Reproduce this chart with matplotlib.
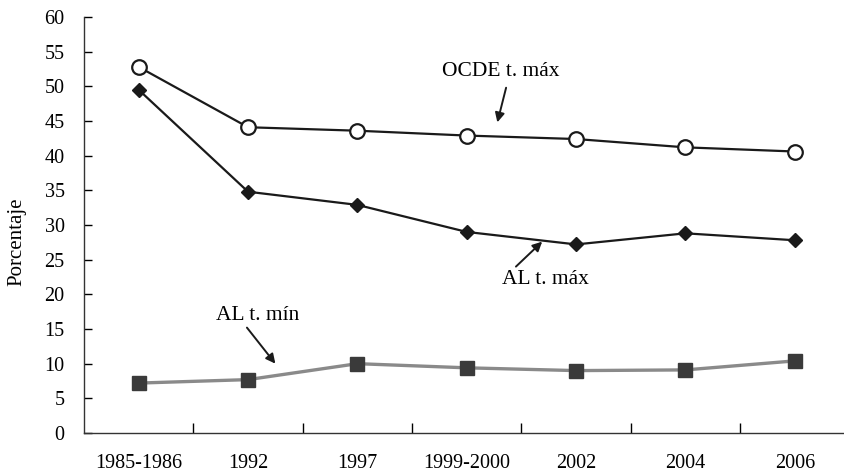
import matplotlib
matplotlib.use("Agg")
import matplotlib.pyplot as plt

categories = ["1985-1986", "1992", "1997", "1999-2000", "2002", "2004", "2006"]
ocde_max = [52.8, 44.1, 43.6, 42.9, 42.4, 41.2, 40.6]
al_max = [49.5, 34.8, 32.9, 29.0, 27.2, 28.8, 27.8]
al_min = [7.2, 7.7, 10.0, 9.4, 9.0, 9.1, 10.4]

plt.rcParams['font.family'] = ['Liberation Serif', 'DejaVu Serif']

fig = plt.figure(figsize=(8.44, 4.73), dpi=100)
ax = fig.add_axes([84/844, 1-433/473, 760/844, (433-17)/473])

x = list(range(len(categories)))
ax.plot(x, ocde_max, color='#1a1a1a', lw=1.6, marker='o', ms=10.5,
        mfc='white', mec='#1a1a1a', mew=1.6, zorder=3)
ax.plot(x, al_max, color='#1a1a1a', lw=1.6, marker='D', ms=7.5,
        mfc='#1a1a1a', mec='#1a1a1a', zorder=3)
ax.plot(x, al_min, color='#8a8a8a', lw=2.4, marker='s', ms=10,
        mfc='#3a3a3a', mec='#3a3a3a', zorder=3)

ax.set_xlim(-0.5, 6.45)
ax.set_ylim(0, 60)
ax.set_yticks(range(0, 61, 5))
ax.tick_params(axis='y', direction='in', length=6, width=1, labelsize=14.5, pad=14)
ax.set_xticks([i + 0.5 for i in range(6)])
ax.set_xticklabels([])
ax.tick_params(axis='x', which='major', direction='in', length=7, width=1)
ax.set_xticks(x, minor=True)
ax.set_xticklabels(categories, minor=True)
ax.tick_params(axis='x', which='minor', length=0, labelsize=14.5, pad=15)

for s in ['top', 'right']:
    ax.spines[s].set_visible(False)
for s in ['left', 'bottom']:
    ax.spines[s].set_linewidth(1.0)
    ax.spines[s].set_color('#333333')

ax.set_ylabel("Porcentaje", fontsize=15)
ax.yaxis.set_label_coords(-58/760, 0.46)

arrow = dict(arrowstyle='-|>', color='#1a1a1a', lw=1.4, mutation_scale=14,
             shrinkA=0, shrinkB=0)
ax.annotate("", xy=(3.28, 44.8), xytext=(3.36, 49.8), arrowprops=arrow)
ax.text(3.31, 52.1, "OCDE t. máx", ha='center', va='center', fontsize=15.5)
ax.annotate("", xy=(3.69, 27.6), xytext=(3.45, 24.0), arrowprops=arrow)
ax.text(3.72, 22.2, "AL t. máx", ha='center', va='center', fontsize=15.5)
ax.annotate("", xy=(1.25, 10.0), xytext=(0.99, 15.2), arrowprops=arrow)
ax.text(1.09, 17.0, "AL t. mín", ha='center', va='center', fontsize=15.5)

fig.savefig("out.png", dpi=100)
